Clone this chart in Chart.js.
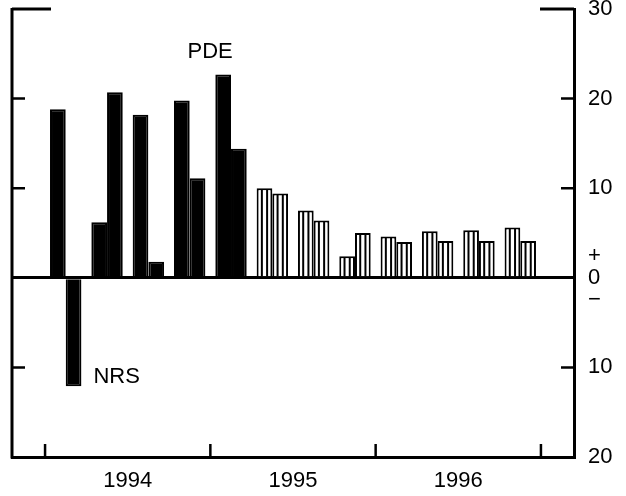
<!DOCTYPE html>
<html>
<head>
<meta charset="utf-8">
<script src="https://cdn.jsdelivr.net/npm/chart.js@4.4.0/dist/chart.umd.min.js"></script>
<style>
    html, body { margin: 0; padding: 0; background: #fff; }
    #wrap { width: 626px; height: 496px; }
</style>
</head>
<body>
<div id="wrap"><canvas id="chart"></canvas></div>
<script>
// quarterly figures, 1994 Q1 - 1996 Q4 (from 1995 Q2 on: forecast, hatched)
const quarters = ['1994 Q1', '1994 Q2', '1994 Q3', '1994 Q4',
                  '1995 Q1', '1995 Q2', '1995 Q3', '1995 Q4',
                  '1996 Q1', '1996 Q2', '1996 Q3', '1996 Q4'];
const pde = [18.8, 6.2, 18.2, 19.8, 22.7, 10.0, 7.5, 2.4, 4.6, 5.2, 5.3, 5.6];
const nrs = [-12.1, 20.7, 1.8, 11.1, 14.4, 9.4, 6.4, 5.0, 4.0, 4.1, 4.1, 4.1];
const years = ['1994', '1995', '1996'];
const yTicks = [-20, -10, 0, 10, 20, 30];
const firstForecast = 5;

const FONT = "'Liberation Sans', Arial, Helvetica, sans-serif";

const fill = quarters.map((q, i) => i < firstForecast ? '#000' : '#fff');

// frame pieces, inward tick marks, hatching and series labels
const decorations = {
    id: 'decorations',
    afterDatasetsDraw(chart) {
        const ctx = chart.ctx;
        const a = chart.chartArea;
        const x = chart.scales.x;
        const y = chart.scales.y;
        ctx.save();
        ctx.strokeStyle = '#000';

        // hatching inside the forecast bars
        ctx.lineWidth = 2;
        chart.data.datasets.forEach((ds, di) => {
            chart.getDatasetMeta(di).data.forEach((el, i) => {
                if (i < firstForecast) return;
                const left = el.x - el.width / 2;
                for (let k = 1; k <= 2; k++) {
                    const lx = left + el.width * k / 3;
                    ctx.beginPath();
                    ctx.moveTo(lx, Math.min(el.y, el.base) + 1);
                    ctx.lineTo(lx, Math.max(el.y, el.base));
                    ctx.stroke();
                }
            });
        });

        // left frame line and short top segments
        ctx.lineWidth = 3;
        ctx.beginPath();
        ctx.moveTo(a.left, a.top - 1);
        ctx.lineTo(a.left, a.bottom + 1.5);
        ctx.moveTo(a.left, a.top);
        ctx.lineTo(a.left + 39, a.top);
        ctx.moveTo(a.right - 34, a.top);
        ctx.lineTo(a.right, a.top);
        ctx.stroke();

        // inward ticks on both side axes
        ctx.lineWidth = 2.5;
        yTicks.filter(v => v !== 0 && v !== y.min && v !== y.max).forEach(v => {
            const py = y.getPixelForValue(v);
            ctx.beginPath();
            ctx.moveTo(a.left, py);
            ctx.lineTo(a.left + 13, py);
            ctx.moveTo(a.right, py);
            ctx.lineTo(a.right - 13, py);
            ctx.stroke();
        });

        // year boundaries on the bottom axis
        for (let q = 0; q <= quarters.length; q += 4) {
            const px = x.getPixelForValue(q);
            ctx.beginPath();
            ctx.moveTo(px, a.bottom);
            ctx.lineTo(px, a.bottom - 13);
            ctx.stroke();
        }

        // series labels next to their bars
        ctx.fillStyle = '#000';
        ctx.font = '22px ' + FONT;
        const pdeBar = chart.getDatasetMeta(0).data[4];
        ctx.textAlign = 'center';
        ctx.textBaseline = 'alphabetic';
        ctx.fillText('PDE', pdeBar.x - 13, pdeBar.y - 16);
        const nrsBar = chart.getDatasetMeta(1).data[0];
        ctx.textAlign = 'left';
        ctx.fillText('NRS', nrsBar.x + nrsBar.width / 2 + 12, nrsBar.y - 3);

        ctx.restore();
    }
};

new Chart(document.getElementById('chart'), {
    type: 'bar',
    plugins: [decorations],
    data: {
        datasets: [
            {
                label: 'PDE',
                data: pde.map((v, i) => ({x: i + 0.5, y: v})),
                backgroundColor: fill,
                borderColor: '#000',
                borderWidth: 2,
            },
            {
                label: 'NRS',
                data: nrs.map((v, i) => ({x: i + 0.5, y: v})),
                backgroundColor: fill,
                borderColor: '#000',
                borderWidth: 2,
            },
        ]
    },
    options: {
        responsive: true,
        maintainAspectRatio: false,
        animation: false,
        categoryPercentage: 0.76,
        barPercentage: 1.0,
        layout: {
            padding: {top: 9, right: 0, bottom: 0, left: 12}
        },
        plugins: {
            legend: {display: false},
            tooltip: {enabled: false},
        },
        scales: {
            x: {
                type: 'linear',
                offset: false,
                min: -0.8,
                max: 12.8,
                afterBuildTicks: s => { s.ticks = years.map((yr, i) => ({value: i * 4 + 2})); },
                afterFit: s => { s.height = 39; },
                grid: {display: false, drawTicks: false, offset: false},
                border: {display: true, color: '#000', width: 3},
                ticks: {
                    autoSkip: false,
                    maxRotation: 0,
                    padding: 11,
                    color: '#000',
                    font: {family: FONT, size: 22},
                    callback: v => years[Math.round((v - 2) / 4)],
                },
            },
            y: {
                position: 'right',
                min: -20,
                max: 30,
                afterBuildTicks: s => { s.ticks = yTicks.map(v => ({value: v})); },
                afterFit: s => { s.paddingTop = 0; s.paddingBottom = 0; s.width = 52; },
                grid: {
                    drawTicks: false,
                    lineWidth: 3,
                    color: c => (c.tick && c.tick.value === 0) ? '#000' : 'rgba(0,0,0,0)',
                },
                border: {color: '#000', width: 3},
                ticks: {
                    padding: 14,
                    color: '#000',
                    font: {family: FONT, size: 22, lineHeight: 1},
                    callback: v => v === 0 ? ['+', '0', '\u2212'] : String(Math.abs(v)),
                },
            },
        },
    },
});
</script>
</body>
</html>
